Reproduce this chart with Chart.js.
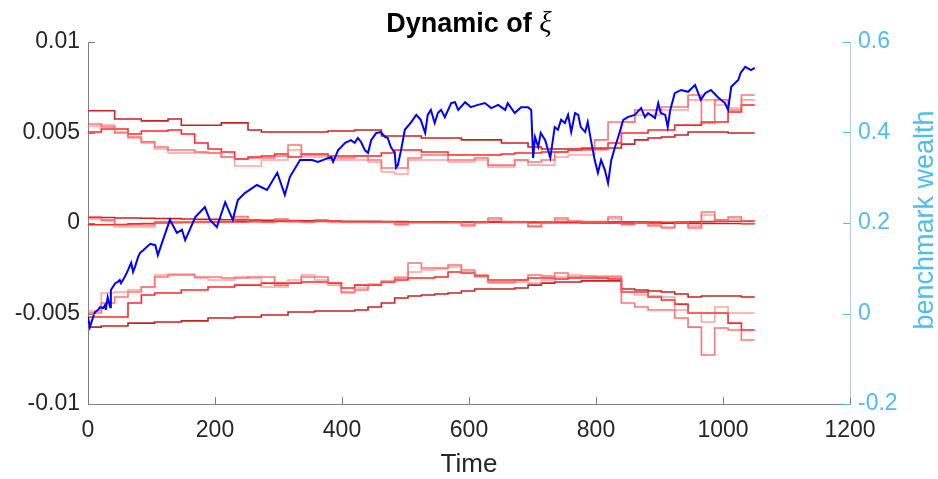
<!DOCTYPE html>
<html>
<head>
<meta charset="utf-8">
<script src="https://cdn.jsdelivr.net/npm/chart.js@4.4.1/dist/chart.umd.min.js"></script>
<style>
  body { margin: 0; background: #fff; }
</style>
</head>
<body>
<canvas id="xi" width="938" height="479"></canvas>
<script>
// time grid of the xi step paths (one step every 21 periods)
const stepT = [0,21,42,63,84,105,126,147,168,189,210,231,252,273,294,315,336,357,378,399,420,441,462,483,504,525,546,567,588,609,630,651,672,693,714,735,756,777,798,819,840,861,882,903,924,945,966,987,1008,1029,1050];

// upper group (around 0.005)
const upA = [.0062,.0062,.00575,.00575,.00564,.00564,.00575,.0054,.0054,.0054,.00553,.00553,.00514,.00503,.00503,.00503,.00503,.00503,.00508,.00508,.00514,.00514,.00481,.00481,.00481,.0047,.0047,.0047,.00459,.00459,.00459,.00442,.00442,.0042,.00409,.00409,.00409,.00409,.00409,.00414,.00436,.00459,.0047,.00475,.00486,.00503,.00503,.00503,.00497,.00497,.00497];
const upB = [.00503,.00519,.00519,.00492,.00508,.00508,.00514,.00492,.00442,.00409,.00392,.00354,.00365,.0037,.00381,.00365,.00381,.00381,.0037,.0037,.0037,.0037,.00387,.00403,.00403,.00392,.00392,.00376,.00376,.00376,.00376,.00381,.00387,.00387,.00392,.00392,.00403,.00414,.00414,.00442,.00497,.00497,.00514,.00514,.00541,.00541,.00558,.00558,.00613,.00652,.00652];
const upC = [.00547,.0053,.00497,.00475,.00448,.0042,.00403,.00403,.00392,.00387,.00365,.00354,.00359,.00359,.0037,.00431,.00376,.00376,.00359,.00359,.0037,.00348,.00304,.00304,.00359,.00376,.00376,.00348,.00348,.00359,.0032,.0032,.00348,.00337,.00348,.00392,.00403,.00403,.00459,.00558,.00558,.00624,.00624,.00641,.00641,.00707,.00553,.0068,.00624,.00707,.00707];
const upD = [.00536,.00541,.00503,.0047,.00442,.00409,.00387,.00387,.00387,.00387,.00365,.00315,.00315,.00348,.00348,.00403,.00365,.00365,.00348,.00348,.00348,.00337,.00282,.00271,.00348,.00348,.00348,.00337,.00337,.00348,.00309,.00309,.00348,.0032,.0032,.00365,.00376,.00376,.00403,.00442,.00558,.00597,.00597,.00624,.00624,.0068,.0068,.00652,.00635,.0068,.0068];

// middle group (around 0)
const midA = [.0003,.0003,.00028,.00028,.00026,.00025,.00024,.00022,.0002,.0002,.00018,.00017,.00016,.00015,.00014,.00013,.00012,.00012,.00011,.0001,.0001,.00009,.00008,.00008,.00007,.00006,.00006,.00005,.00005,.00004,.00004,.00003,.00003,.00002,.00002,.00001,.00001,0,0,0,0,0,0,-.00001,-.00001,-.00002,-.00002,-.00003,-.00003,-.00004,-.00004];
const midB = [-.0001,-.0001,-.00008,-.00005,-.00003,0,.00002,.00003,.00004,.00005,.00006,.00006,.00007,.00007,.00008,.00008,.00008,.00008,.00008,.00007,.00007,.00007,.00006,.00006,.00006,.00006,.00005,.00005,.00005,.00005,.00006,.00006,.00006,.00005,.00005,.00005,.00006,.00006,.00006,.00007,.00007,.00006,.00005,.00004,.00005,.00006,.00008,.00009,.0001,.0001,.0001];
const midC = [.00033,.00017,-.00011,-.00011,-.00011,.00006,.00006,.00006,.00006,.00006,.00006,.00035,.00011,.00006,.00022,.00011,.00006,.00017,.0001,.00006,.00006,.00006,.00006,-.00006,.00003,.00003,.00003,.00003,-.00011,.00003,.00028,.00008,.00006,-.00017,.00003,.00028,.00011,.00008,.00008,.00033,-.00006,.00003,-.00011,-.00028,.00006,-.00028,.00061,.00017,.00033,.00011,.00011];
const midD = [.00022,.00011,-.00022,-.00022,-.00022,0,.00003,.00003,.00003,.00003,.00003,.00022,.00008,.00003,.00014,.00006,.00003,.00011,.00003,.00003,.00003,.00003,.00003,-.00011,0,0,0,0,-.00017,0,.00017,.00006,.00003,-.00022,0,.00017,.00008,.00006,.00006,.00022,-.00011,0,-.00017,-.00022,0,-.00017,.00044,.00011,.00022,-.00003,-.00006];

// lower group (around -0.005)
const lowA = [-.00575,-.00569,-.00569,-.00553,-.00553,-.00547,-.00547,-.00541,-.00541,-.00525,-.00525,-.00519,-.00519,-.00508,-.00508,-.00492,-.00492,-.00486,-.00486,-.00486,-.00481,-.00464,-.00442,-.00414,-.00403,-.00398,-.00392,-.00387,-.00376,-.00365,-.00365,-.00365,-.00359,-.00343,-.00332,-.00326,-.00326,-.0032,-.0032,-.0032,-.00365,-.0037,-.00376,-.00381,-.00392,-.00409,-.00403,-.00403,-.00403,-.00409,-.00409];
const lowB = [-.00519,-.00519,-.00519,-.00442,-.00398,-.00387,-.00387,-.0037,-.0037,-.00354,-.00354,-.00343,-.00343,-.00332,-.00332,-.00332,-.00326,-.00326,-.00332,-.00359,-.00343,-.00343,-.00326,-.00315,-.00304,-.00304,-.00298,-.00271,-.00276,-.00293,-.00315,-.00315,-.00315,-.00304,-.00304,-.00309,-.00304,-.00304,-.00304,-.00309,-.00381,-.00381,-.00409,-.00425,-.00448,-.00497,-.00497,-.00497,-.00553,-.00591,-.00591];
const lowC = [-.00497,-.00442,-.00409,-.00381,-.00354,-.00298,-.00287,-.00287,-.00298,-.00298,-.00304,-.00304,-.00298,-.00298,-.00343,-.00332,-.00298,-.00298,-.00332,-.00381,-.0037,-.00343,-.00326,-.00304,-.00221,-.00249,-.00249,-.00232,-.0026,-.00287,-.00326,-.00326,-.00315,-.00287,-.00293,-.00276,-.00298,-.00293,-.00298,-.00298,-.00442,-.00464,-.00481,-.00481,-.00525,-.00575,-.00729,-.0058,-.00591,-.00646,-.00646];
const lowD = [-.00486,-.00387,-.00381,-.0037,-.00354,-.00287,-.00282,-.00282,-.00304,-.00315,-.00315,-.00298,-.00304,-.00354,-.00354,-.00315,-.00287,-.00315,-.00343,-.00387,-.00359,-.00337,-.0032,-.00298,-.00271,-.0026,-.00254,-.00243,-.00271,-.00298,-.00332,-.00332,-.00326,-.00332,-.00315,-.00298,-.00287,-.00298,-.00293,-.00293,-.00381,-.00398,-.00403,-.00409,-.00481,-.00497,-.00547,-.00464,-.00497,-.00497,-.00497];

// benchmark wealth (right axis)
const benchT = [0,3,8,11,16,19,24,27,28,31,35,36,43,47,50,52,58,63,68,71,74,79,82,87,98,106,110,118,129,140,148,153,169,184,192,203,216,228,236,247,266,282,298,310,318,334,353,
  362,383,386,394,405,414,420,425,430,436,441,446,454,461,468,472,477,483,485,488,493,499,509,517,524,531,535,540,546,551,556,562,572,578,583,594,603,614,625,635,646,657,661,672,682,693,698,
  701,704,709,713,720,728,735,740,745,751,756,761,767,772,776,783,787,792,798,803,808,814,819,824,830,835,843,850,861,871,877,882,893,898,902,909,913,917,924,934,945,956,965,972,981,992,1003,1008,1013,1024,1028,1035,1044,1050];
const benchV = [-0.008,-0.030,-0.008,0.003,0.008,0.014,0.012,0.019,0.008,0.036,0.014,0.052,0.067,0.070,0.074,0.067,0.081,0.096,0.112,0.092,0.103,0.125,0.134,0.140,0.154,0.151,0.129,0.162,0.207,0.178,0.185,0.162,0.213,0.235,0.207,0.191,0.246,0.207,0.251,0.266,0.284,0.273,0.311,0.262,0.302,0.339,0.339,
  0.335,0.346,0.335,0.361,0.377,0.383,0.377,0.388,0.379,0.361,0.355,0.383,0.399,0.401,0.390,0.388,0.368,0.355,0.322,0.328,0.361,0.406,0.423,0.439,0.428,0.399,0.439,0.450,0.421,0.443,0.450,0.434,0.465,0.467,0.450,0.467,0.456,0.461,0.465,0.454,0.461,0.450,0.465,0.443,0.456,0.456,0.450,
  0.344,0.390,0.368,0.399,0.383,0.344,0.412,0.406,0.428,0.421,0.439,0.401,0.443,0.439,0.412,0.401,0.423,0.383,0.339,0.311,0.339,0.317,0.288,0.339,0.368,0.390,0.428,0.434,0.439,0.454,0.434,0.443,0.432,0.465,0.443,0.439,0.412,0.450,0.487,0.494,0.490,0.505,0.472,0.487,0.494,0.478,0.465,0.450,0.501,0.516,0.532,0.545,0.538,0.543];

// ticks
const xTicks = [0,200,400,600,800,1000,1200];
const yTicks = [-0.01,-0.005,0,0.005,0.01];
const yLabels = ['-0.01','-0.005','0','0.005','0.01'];
const y2Ticks = [-0.2,0,0.2,0.4,0.6];
const y2Labels = ['-0.2','0','0.2','0.4','0.6'];

const dark = 'rgb(200,35,35)';
const red = 'rgb(255,40,40)';
const light = 'rgba(255,70,70,0.75)';
const pink = 'rgba(255,105,105,0.6)';
const sky = '#4DBEEE';
const ink = '#262626';
const FONT = '"Liberation Sans", Arial, Helvetica, sans-serif';

function stairs(vals, color) {
  return {
    data: stepT.map((t, i) => ({x: t, y: vals[i]})),
    borderColor: color,
    borderWidth: 1.6,
    stepped: true,
    pointRadius: 0,
    fill: false,
    yAxisID: 'y'
  };
}

const decor = {
  id: 'decor',
  afterDraw(chart) {
    const ctx = chart.ctx;
    const a = chart.chartArea;
    const sx = chart.scales.x, sy = chart.scales.y, sy2 = chart.scales.y2;
    ctx.save();
    ctx.lineWidth = 1;
    // inward tick marks, MATLAB style
    ctx.strokeStyle = '#808080';
    ctx.beginPath();
    xTicks.forEach(v => {
      const p = Math.round(sx.getPixelForValue(v)) + 0.5;
      ctx.moveTo(p, a.bottom); ctx.lineTo(p, a.bottom - 7);
    });
    yTicks.forEach(v => {
      const p = Math.round(sy.getPixelForValue(v)) + 0.5;
      ctx.moveTo(a.left, p); ctx.lineTo(a.left + 7, p);
    });
    ctx.stroke();
    ctx.strokeStyle = sky;
    ctx.beginPath();
    y2Ticks.forEach(v => {
      const p = Math.round(sy2.getPixelForValue(v)) + 0.5;
      ctx.moveTo(a.right, p); ctx.lineTo(a.right - 7, p);
    });
    ctx.stroke();

    // title
    const cx = (a.left + a.right) / 2;
    ctx.fillStyle = '#000';
    ctx.textBaseline = 'alphabetic';
    ctx.font = 'bold 27px ' + FONT;
    const t1 = 'Dynamic of ';
    const w1 = ctx.measureText(t1).width;
    ctx.font = 'italic 29px "Liberation Serif", "DejaVu Serif", serif';
    const w2 = ctx.measureText('ξ').width;
    const x0 = cx - (w1 + w2) / 2;
    ctx.textAlign = 'left';
    ctx.font = 'bold 27px ' + FONT;
    ctx.fillText(t1, x0, 32);
    ctx.font = 'italic 29px "Liberation Serif", "DejaVu Serif", serif';
    ctx.fillText('ξ', x0 + w1, 32);

    // x label
    ctx.fillStyle = ink;
    ctx.font = '26px ' + FONT;
    ctx.textAlign = 'center';
    ctx.fillText('Time', cx, 472);

    // right y label
    ctx.fillStyle = sky;
    ctx.font = '27px ' + FONT;
    ctx.translate(933, 220);
    ctx.rotate(-Math.PI / 2);
    ctx.fillText('benchmark wealth', 0, 0);
    ctx.restore();
  }
};

new Chart(document.getElementById('xi'), {
  type: 'line',
  data: {
    datasets: [
      {
        data: benchT.map((t, i) => ({x: t, y: benchV[i]})),
        borderColor: '#0000ff',
        borderWidth: 2,
        pointRadius: 0,
        tension: 0,
        fill: false,
        yAxisID: 'y2'
      },
      stairs(upD, pink), stairs(upC, light), stairs(upB, red), stairs(upA, dark),
      stairs(midD, pink), stairs(midC, light), stairs(midB, red), stairs(midA, dark),
      stairs(lowD, pink), stairs(lowC, light), stairs(lowB, red), stairs(lowA, dark)
    ]
  },
  options: {
    responsive: false,
    animation: false,
    devicePixelRatio: 1,
    layout: { padding: { top: 42, left: 0, right: 0, bottom: 0 } },
    plugins: { legend: { display: false }, tooltip: { enabled: false }, title: { display: false } },
    scales: {
      x: {
        type: 'linear',
        min: 0, max: 1200,
        afterBuildTicks: s => { s.ticks = xTicks.map(v => ({value: v})); },
        afterFit: s => { s.height = 75; },
        grid: { display: false, drawTicks: false },
        border: { display: true, color: '#808080', width: 1 },
        ticks: { color: ink, padding: 13, font: { family: FONT, size: 23 }, maxRotation: 0, autoSkip: false, callback: v => String(v) }
      },
      y: {
        position: 'left',
        min: -0.01, max: 0.01,
        afterBuildTicks: s => { s.ticks = yTicks.map(v => ({value: v})); },
        afterFit: s => { s.width = 88; },
        grid: { display: false, drawTicks: false },
        border: { display: true, color: '#808080', width: 1 },
        ticks: { color: ink, padding: 8, font: { family: FONT, size: 23 }, autoSkip: false,
                 callback: (v, i) => yLabels[i] }
      },
      y2: {
        position: 'right',
        min: -0.2, max: 0.6,
        afterBuildTicks: s => { s.ticks = y2Ticks.map(v => ({value: v})); },
        afterFit: s => { s.width = 88; },
        grid: { display: false, drawTicks: false },
        border: { display: true, color: '#9fd8f3', width: 1 },
        ticks: { color: sky, padding: 8, font: { family: FONT, size: 23 }, autoSkip: false,
                 callback: (v, i) => y2Labels[i] }
      }
    }
  },
  plugins: [decor]
});
</script>
</body>
</html>
